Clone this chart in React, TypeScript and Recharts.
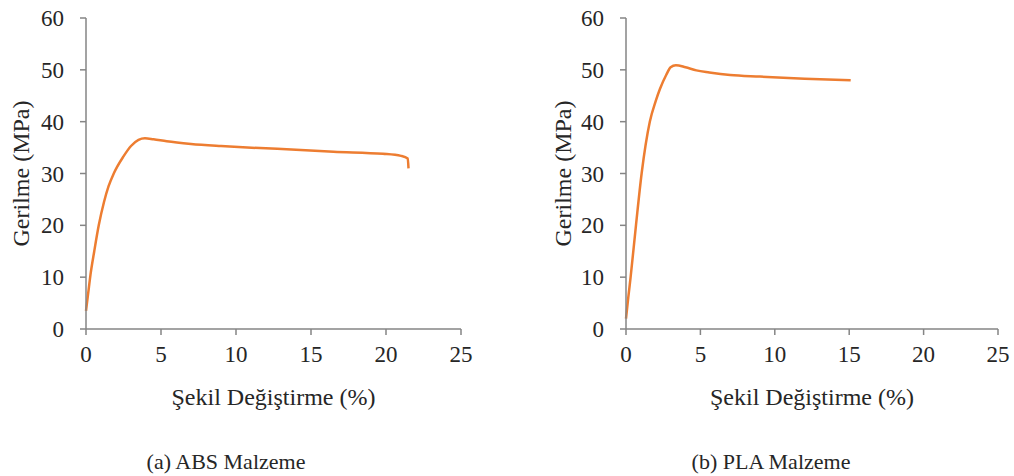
import { LineChart, Line, XAxis, YAxis, Label } from "recharts";

const absStrain = [0, 0.15, 0.3, 0.55, 0.85, 1.2, 1.5, 1.85, 2.5, 3.0, 3.5, 3.93, 4.5, 5.38, 7, 9, 11.6, 14, 16.5, 19.8, 21.0, 21.45, 21.5];
const absStress = [3.5, 7, 10.5, 15, 20, 24.5, 27.5, 30, 33.3, 35.3, 36.5, 36.8, 36.6, 36.2, 35.7, 35.3, 34.9, 34.6, 34.2, 33.8, 33.4, 32.9, 31.0];

const plaStrain = [0, 0.15, 0.31, 0.67, 1.05, 1.6, 2.0, 2.28, 2.7, 3.0, 3.35, 4.0, 4.73, 5.6, 7, 9, 12, 15.1];
const plaStress = [2, 6, 10, 20, 30, 40, 44, 46.3, 49, 50.5, 50.9, 50.5, 49.9, 49.5, 49.0, 48.7, 48.3, 48.0];

const xTicks = [0, 5, 10, 15, 20, 25];
const yTicks = [0, 10, 20, 30, 40, 50, 60];

const xTitle = "Şekil Değiştirme (%)";
const yTitle = "Gerilme (MPa)";
const captions = ["(a) ABS Malzeme", "(b) PLA Malzeme"];

const FONT = "'Liberation Serif', 'Times New Roman', serif";
const AXIS = "#858585";
const TEXT = "#262626";
const ORANGE = "#ED7D31";

const toRows = (xs: number[], ys: number[]) => xs.map((x, i) => ({ x, y: ys[i] }));

function StressChart({
  data,
  yAxisWidth,
  titleOffset,
  right,
}: {
  data: { x: number; y: number }[];
  yAxisWidth: number;
  titleOffset: number;
  right: number;
}) {
  return (
    <LineChart width={507} height={430} data={data} margin={{ top: 18, right, left: 0, bottom: 21 }}>
      <XAxis
        dataKey="x"
        type="number"
        domain={[0, 25]}
        ticks={xTicks}
        height={80}
        stroke={AXIS}
        strokeWidth={1.5}
        tickSize={6}
        tickMargin={11}
        tick={{ fontSize: 23, fill: TEXT }}
      >
        <Label value={xTitle} position="insideTop" offset={59} style={{ fontSize: 24, fill: TEXT }} />
      </XAxis>
      <YAxis
        type="number"
        domain={[0, 60]}
        ticks={yTicks}
        width={yAxisWidth}
        stroke={AXIS}
        strokeWidth={1.5}
        tickSize={6}
        tickMargin={16}
        tick={{ fontSize: 23, fill: TEXT }}
      >
        <Label
          value={yTitle}
          angle={-90}
          position="insideLeft"
          offset={titleOffset}
          style={{ fontSize: 24, fill: TEXT, textAnchor: "middle" }}
        />
      </YAxis>
      <Line
        type="monotone"
        dataKey="y"
        stroke={ORANGE}
        strokeWidth={2.5}
        dot={false}
        isAnimationActive={false}
      />
    </LineChart>
  );
}

export default function App() {
  return (
    <div
      style={{
        position: "absolute",
        left: 0,
        top: 0,
        width: 1014,
        height: 476,
        background: "#fff",
        fontFamily: FONT,
      }}
    >
      <div style={{ position: "absolute", left: 0, top: 0 }}>
        <StressChart data={toRows(absStrain, absStress)} yAxisWidth={86} titleOffset={20} right={46} />
      </div>
      <div style={{ position: "absolute", left: 507, top: 0 }}>
        <StressChart data={toRows(plaStrain, plaStress)} yAxisWidth={119} titleOffset={55} right={16} />
      </div>
      {captions.map((c, i) => (
        <div
          key={c}
          style={{
            position: "absolute",
            left: i === 0 ? 126 : 671,
            width: 200,
            top: 450,
            height: 24,
            lineHeight: "24px",
            textAlign: "center",
            fontSize: 22,
            color: TEXT,
          }}
        >
          {c}
        </div>
      ))}
    </div>
  );
}
